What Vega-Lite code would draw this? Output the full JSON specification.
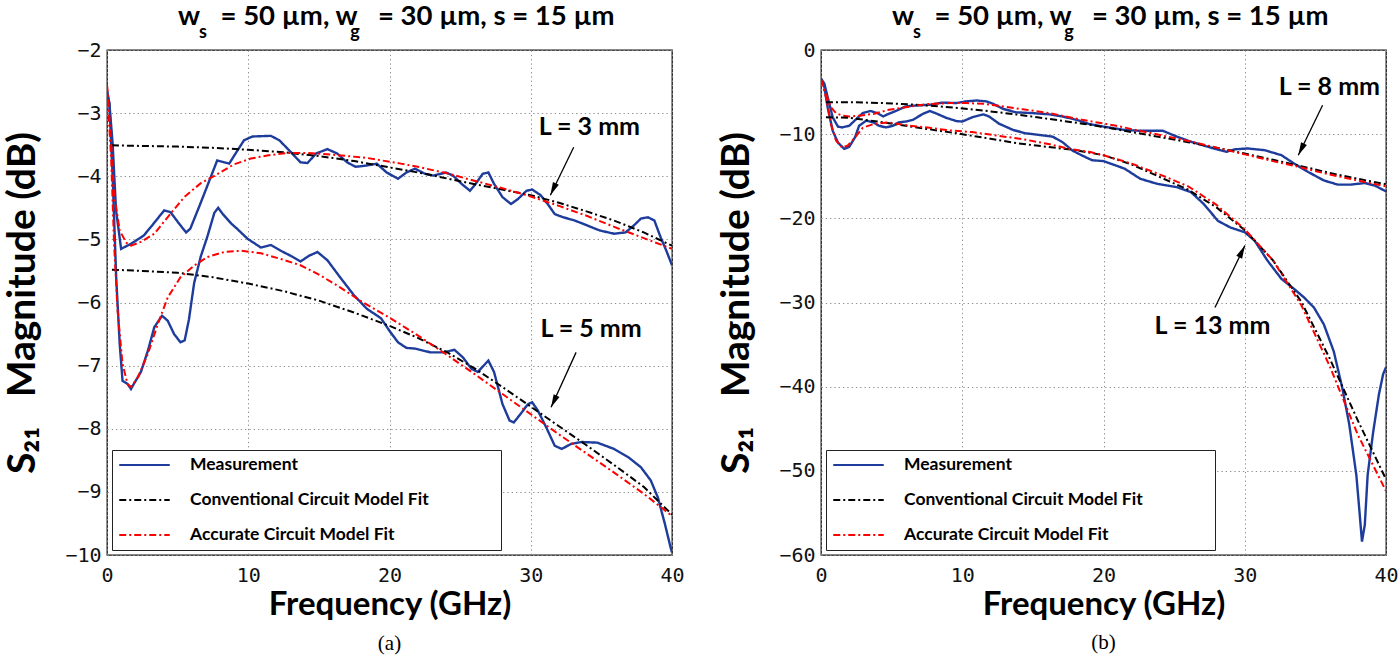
{
  "$schema": "https://vega.github.io/schema/vega-lite/v6.json",
  "background": "white",
  "padding": {"left": 3, "top": 1, "right": 10, "bottom": 5},
  "bounds": "flush",
  "spacing": 149,
  "datasets": {
    "a": [
      {"f":0,"v":-2.65,"s":"meas","L":"3"},{"f":0.17,"v":-2.85,"s":"meas","L":"3"},{"f":0.4,"v":-3.49,"s":"meas","L":"3"},{"f":0.64,"v":-4.54,"s":"meas","L":"3"},{"f":1.0,"v":-5.15,"s":"meas","L":"3"},{"f":1.7,"v":-5.07,"s":"meas","L":"3"},{"f":2.6,"v":-4.94,"s":"meas","L":"3"},{"f":3.3,"v":-4.75,"s":"meas","L":"3"},{"f":4.05,"v":-4.54,"s":"meas","L":"3"},{"f":4.5,"v":-4.57,"s":"meas","L":"3"},{"f":5.1,"v":-4.75,"s":"meas","L":"3"},{"f":5.6,"v":-4.89,"s":"meas","L":"3"},{"f":5.9,"v":-4.83,"s":"meas","L":"3"},{"f":6.6,"v":-4.44,"s":"meas","L":"3"},{"f":7.35,"v":-4.01,"s":"meas","L":"3"},{"f":7.8,"v":-3.75,"s":"meas","L":"3"},{"f":8.3,"v":-3.78,"s":"meas","L":"3"},{"f":8.65,"v":-3.8,"s":"meas","L":"3"},{"f":9.1,"v":-3.64,"s":"meas","L":"3"},{"f":9.7,"v":-3.43,"s":"meas","L":"3"},{"f":10.3,"v":-3.37,"s":"meas","L":"3"},{"f":11.6,"v":-3.36,"s":"meas","L":"3"},{"f":12.2,"v":-3.43,"s":"meas","L":"3"},{"f":12.9,"v":-3.59,"s":"meas","L":"3"},{"f":13.7,"v":-3.78,"s":"meas","L":"3"},{"f":14.2,"v":-3.79,"s":"meas","L":"3"},{"f":14.8,"v":-3.64,"s":"meas","L":"3"},{"f":15.6,"v":-3.57,"s":"meas","L":"3"},{"f":16.3,"v":-3.64,"s":"meas","L":"3"},{"f":17.0,"v":-3.78,"s":"meas","L":"3"},{"f":17.6,"v":-3.85,"s":"meas","L":"3"},{"f":18.4,"v":-3.83,"s":"meas","L":"3"},{"f":19.1,"v":-3.8,"s":"meas","L":"3"},{"f":19.8,"v":-3.94,"s":"meas","L":"3"},{"f":20.6,"v":-4.04,"s":"meas","L":"3"},{"f":21.2,"v":-3.94,"s":"meas","L":"3"},{"f":21.8,"v":-3.88,"s":"meas","L":"3"},{"f":22.5,"v":-3.96,"s":"meas","L":"3"},{"f":23.1,"v":-3.99,"s":"meas","L":"3"},{"f":24.0,"v":-3.94,"s":"meas","L":"3"},{"f":24.5,"v":-3.99,"s":"meas","L":"3"},{"f":25.1,"v":-4.12,"s":"meas","L":"3"},{"f":25.7,"v":-4.23,"s":"meas","L":"3"},{"f":26.1,"v":-4.12,"s":"meas","L":"3"},{"f":26.6,"v":-3.96,"s":"meas","L":"3"},{"f":27.0,"v":-3.94,"s":"meas","L":"3"},{"f":27.4,"v":-4.12,"s":"meas","L":"3"},{"f":28.0,"v":-4.33,"s":"meas","L":"3"},{"f":28.6,"v":-4.44,"s":"meas","L":"3"},{"f":29.1,"v":-4.36,"s":"meas","L":"3"},{"f":29.7,"v":-4.23,"s":"meas","L":"3"},{"f":30.1,"v":-4.21,"s":"meas","L":"3"},{"f":30.7,"v":-4.3,"s":"meas","L":"3"},{"f":31.2,"v":-4.44,"s":"meas","L":"3"},{"f":31.7,"v":-4.6,"s":"meas","L":"3"},{"f":32.3,"v":-4.65,"s":"meas","L":"3"},{"f":33.1,"v":-4.7,"s":"meas","L":"3"},{"f":34.0,"v":-4.78,"s":"meas","L":"3"},{"f":34.9,"v":-4.86,"s":"meas","L":"3"},{"f":35.9,"v":-4.91,"s":"meas","L":"3"},{"f":36.7,"v":-4.89,"s":"meas","L":"3"},{"f":37.3,"v":-4.78,"s":"meas","L":"3"},{"f":37.8,"v":-4.67,"s":"meas","L":"3"},{"f":38.3,"v":-4.65,"s":"meas","L":"3"},{"f":38.75,"v":-4.7,"s":"meas","L":"3"},{"f":39.2,"v":-4.97,"s":"meas","L":"3"},{"f":39.6,"v":-5.18,"s":"meas","L":"3"},{"f":40,"v":-5.41,"s":"meas","L":"3"},

      {"f":0.35,"v":-3.51,"s":"conv","L":"3"},{"f":2.5,"v":-3.52,"s":"conv","L":"3"},{"f":5,"v":-3.53,"s":"conv","L":"3"},{"f":7.5,"v":-3.55,"s":"conv","L":"3"},{"f":10,"v":-3.58,"s":"conv","L":"3"},{"f":12.5,"v":-3.62,"s":"conv","L":"3"},{"f":15,"v":-3.68,"s":"conv","L":"3"},{"f":17.5,"v":-3.76,"s":"conv","L":"3"},{"f":20,"v":-3.86,"s":"conv","L":"3"},{"f":22.5,"v":-3.96,"s":"conv","L":"3"},{"f":25,"v":-4.08,"s":"conv","L":"3"},{"f":27.5,"v":-4.19,"s":"conv","L":"3"},{"f":30,"v":-4.3,"s":"conv","L":"3"},{"f":32,"v":-4.42,"s":"conv","L":"3"},{"f":34,"v":-4.56,"s":"conv","L":"3"},{"f":36,"v":-4.71,"s":"conv","L":"3"},{"f":38,"v":-4.89,"s":"conv","L":"3"},{"f":40,"v":-5.1,"s":"conv","L":"3"},

      {"f":0,"v":-2.55,"s":"acc","L":"3"},{"f":0.3,"v":-3.49,"s":"acc","L":"3"},{"f":0.5,"v":-4.28,"s":"acc","L":"3"},{"f":0.9,"v":-4.86,"s":"acc","L":"3"},{"f":1.35,"v":-5.05,"s":"acc","L":"3"},{"f":1.7,"v":-5.1,"s":"acc","L":"3"},{"f":2.4,"v":-5.04,"s":"acc","L":"3"},{"f":3.35,"v":-4.91,"s":"acc","L":"3"},{"f":4.29,"v":-4.65,"s":"acc","L":"3"},{"f":5.47,"v":-4.33,"s":"acc","L":"3"},{"f":6.64,"v":-4.11,"s":"acc","L":"3"},{"f":7.47,"v":-4.01,"s":"acc","L":"3"},{"f":9.0,"v":-3.81,"s":"acc","L":"3"},{"f":10.18,"v":-3.72,"s":"acc","L":"3"},{"f":11.35,"v":-3.67,"s":"acc","L":"3"},{"f":12.77,"v":-3.63,"s":"acc","L":"3"},{"f":14.18,"v":-3.63,"s":"acc","L":"3"},{"f":16.07,"v":-3.66,"s":"acc","L":"3"},{"f":18.4,"v":-3.71,"s":"acc","L":"3"},{"f":20.8,"v":-3.8,"s":"acc","L":"3"},{"f":22,"v":-3.85,"s":"acc","L":"3"},{"f":24,"v":-3.95,"s":"acc","L":"3"},{"f":26,"v":-4.07,"s":"acc","L":"3"},{"f":28,"v":-4.19,"s":"acc","L":"3"},{"f":30,"v":-4.32,"s":"acc","L":"3"},{"f":32,"v":-4.47,"s":"acc","L":"3"},{"f":34,"v":-4.63,"s":"acc","L":"3"},{"f":36,"v":-4.81,"s":"acc","L":"3"},{"f":38,"v":-4.98,"s":"acc","L":"3"},{"f":40,"v":-5.15,"s":"acc","L":"3"},

      {"f":0,"v":-2.65,"s":"meas","L":"5"},{"f":0.17,"v":-2.85,"s":"meas","L":"5"},{"f":0.4,"v":-4.0,"s":"meas","L":"5"},{"f":0.65,"v":-5.6,"s":"meas","L":"5"},{"f":0.9,"v":-6.66,"s":"meas","L":"5"},{"f":1.1,"v":-7.24,"s":"meas","L":"5"},{"f":1.45,"v":-7.29,"s":"meas","L":"5"},{"f":1.7,"v":-7.37,"s":"meas","L":"5"},{"f":1.9,"v":-7.29,"s":"meas","L":"5"},{"f":2.4,"v":-7.1,"s":"meas","L":"5"},{"f":2.9,"v":-6.76,"s":"meas","L":"5"},{"f":3.35,"v":-6.39,"s":"meas","L":"5"},{"f":3.9,"v":-6.21,"s":"meas","L":"5"},{"f":4.3,"v":-6.29,"s":"meas","L":"5"},{"f":4.75,"v":-6.5,"s":"meas","L":"5"},{"f":5.2,"v":-6.63,"s":"meas","L":"5"},{"f":5.5,"v":-6.6,"s":"meas","L":"5"},{"f":5.8,"v":-6.27,"s":"meas","L":"5"},{"f":6.17,"v":-5.69,"s":"meas","L":"5"},{"f":6.64,"v":-5.27,"s":"meas","L":"5"},{"f":7.1,"v":-4.96,"s":"meas","L":"5"},{"f":7.6,"v":-4.58,"s":"meas","L":"5"},{"f":7.87,"v":-4.5,"s":"meas","L":"5"},{"f":8.2,"v":-4.6,"s":"meas","L":"5"},{"f":8.8,"v":-4.75,"s":"meas","L":"5"},{"f":9.2,"v":-4.83,"s":"meas","L":"5"},{"f":9.95,"v":-4.99,"s":"meas","L":"5"},{"f":10.9,"v":-5.13,"s":"meas","L":"5"},{"f":11.6,"v":-5.09,"s":"meas","L":"5"},{"f":12.3,"v":-5.18,"s":"meas","L":"5"},{"f":13.0,"v":-5.26,"s":"meas","L":"5"},{"f":13.7,"v":-5.35,"s":"meas","L":"5"},{"f":14.3,"v":-5.26,"s":"meas","L":"5"},{"f":14.9,"v":-5.2,"s":"meas","L":"5"},{"f":15.6,"v":-5.33,"s":"meas","L":"5"},{"f":16.5,"v":-5.6,"s":"meas","L":"5"},{"f":17.5,"v":-5.89,"s":"meas","L":"5"},{"f":18.4,"v":-6.1,"s":"meas","L":"5"},{"f":19.4,"v":-6.25,"s":"meas","L":"5"},{"f":20.0,"v":-6.45,"s":"meas","L":"5"},{"f":20.6,"v":-6.63,"s":"meas","L":"5"},{"f":21.2,"v":-6.72,"s":"meas","L":"5"},{"f":21.8,"v":-6.73,"s":"meas","L":"5"},{"f":22.9,"v":-6.79,"s":"meas","L":"5"},{"f":23.8,"v":-6.79,"s":"meas","L":"5"},{"f":24.6,"v":-6.75,"s":"meas","L":"5"},{"f":25.2,"v":-6.87,"s":"meas","L":"5"},{"f":25.8,"v":-7.05,"s":"meas","L":"5"},{"f":26.25,"v":-7.1,"s":"meas","L":"5"},{"f":27.0,"v":-6.92,"s":"meas","L":"5"},{"f":27.4,"v":-7.1,"s":"meas","L":"5"},{"f":28.0,"v":-7.61,"s":"meas","L":"5"},{"f":28.5,"v":-7.87,"s":"meas","L":"5"},{"f":28.8,"v":-7.9,"s":"meas","L":"5"},{"f":29.3,"v":-7.76,"s":"meas","L":"5"},{"f":29.8,"v":-7.61,"s":"meas","L":"5"},{"f":30.1,"v":-7.58,"s":"meas","L":"5"},{"f":30.5,"v":-7.71,"s":"meas","L":"5"},{"f":31.1,"v":-7.98,"s":"meas","L":"5"},{"f":31.7,"v":-8.27,"s":"meas","L":"5"},{"f":32.2,"v":-8.32,"s":"meas","L":"5"},{"f":32.85,"v":-8.24,"s":"meas","L":"5"},{"f":33.6,"v":-8.21,"s":"meas","L":"5"},{"f":34.7,"v":-8.22,"s":"meas","L":"5"},{"f":35.9,"v":-8.32,"s":"meas","L":"5"},{"f":36.9,"v":-8.45,"s":"meas","L":"5"},{"f":37.8,"v":-8.61,"s":"meas","L":"5"},{"f":38.5,"v":-8.82,"s":"meas","L":"5"},{"f":39.0,"v":-9.09,"s":"meas","L":"5"},{"f":39.5,"v":-9.51,"s":"meas","L":"5"},{"f":39.9,"v":-9.88,"s":"meas","L":"5"},{"f":40,"v":-9.96,"s":"meas","L":"5"},

      {"f":0.35,"v":-5.48,"s":"conv","L":"5"},{"f":2.5,"v":-5.5,"s":"conv","L":"5"},{"f":5,"v":-5.53,"s":"conv","L":"5"},{"f":7.5,"v":-5.6,"s":"conv","L":"5"},{"f":10,"v":-5.7,"s":"conv","L":"5"},{"f":12.5,"v":-5.82,"s":"conv","L":"5"},{"f":15,"v":-5.97,"s":"conv","L":"5"},{"f":17.5,"v":-6.16,"s":"conv","L":"5"},{"f":20,"v":-6.37,"s":"conv","L":"5"},{"f":22,"v":-6.56,"s":"conv","L":"5"},{"f":24,"v":-6.78,"s":"conv","L":"5"},{"f":26,"v":-7.04,"s":"conv","L":"5"},{"f":28,"v":-7.34,"s":"conv","L":"5"},{"f":30,"v":-7.65,"s":"conv","L":"5"},{"f":32,"v":-7.96,"s":"conv","L":"5"},{"f":34,"v":-8.27,"s":"conv","L":"5"},{"f":36,"v":-8.59,"s":"conv","L":"5"},{"f":38,"v":-8.92,"s":"conv","L":"5"},{"f":40,"v":-9.36,"s":"conv","L":"5"},

      {"f":0,"v":-2.55,"s":"acc","L":"5"},{"f":0.3,"v":-3.75,"s":"acc","L":"5"},{"f":0.5,"v":-5.07,"s":"acc","L":"5"},{"f":0.75,"v":-6.13,"s":"acc","L":"5"},{"f":1.1,"v":-6.97,"s":"acc","L":"5"},{"f":1.45,"v":-7.29,"s":"acc","L":"5"},{"f":1.7,"v":-7.34,"s":"acc","L":"5"},{"f":2.2,"v":-7.18,"s":"acc","L":"5"},{"f":2.9,"v":-6.81,"s":"acc","L":"5"},{"f":3.6,"v":-6.34,"s":"acc","L":"5"},{"f":4.3,"v":-5.92,"s":"acc","L":"5"},{"f":5.2,"v":-5.6,"s":"acc","L":"5"},{"f":6.2,"v":-5.41,"s":"acc","L":"5"},{"f":7.1,"v":-5.28,"s":"acc","L":"5"},{"f":8.3,"v":-5.2,"s":"acc","L":"5"},{"f":9.5,"v":-5.18,"s":"acc","L":"5"},{"f":10.9,"v":-5.22,"s":"acc","L":"5"},{"f":12.3,"v":-5.31,"s":"acc","L":"5"},{"f":13.7,"v":-5.41,"s":"acc","L":"5"},{"f":15.1,"v":-5.57,"s":"acc","L":"5"},{"f":16.5,"v":-5.76,"s":"acc","L":"5"},{"f":18,"v":-5.98,"s":"acc","L":"5"},{"f":20,"v":-6.24,"s":"acc","L":"5"},{"f":22,"v":-6.52,"s":"acc","L":"5"},{"f":24,"v":-6.82,"s":"acc","L":"5"},{"f":26,"v":-7.13,"s":"acc","L":"5"},{"f":28,"v":-7.45,"s":"acc","L":"5"},{"f":30,"v":-7.77,"s":"acc","L":"5"},{"f":32,"v":-8.09,"s":"acc","L":"5"},{"f":34,"v":-8.4,"s":"acc","L":"5"},{"f":36,"v":-8.71,"s":"acc","L":"5"},{"f":38,"v":-9.03,"s":"acc","L":"5"},{"f":40,"v":-9.38,"s":"acc","L":"5"}
    ],
    "b": [
      {"f":0,"v":-3.4,"s":"meas","L":"8"},{"f":0.24,"v":-4.0,"s":"meas","L":"8"},{"f":0.47,"v":-5.6,"s":"meas","L":"8"},{"f":0.83,"v":-8.0,"s":"meas","L":"8"},{"f":1.2,"v":-9.1,"s":"meas","L":"8"},{"f":1.5,"v":-9.2,"s":"meas","L":"8"},{"f":2.0,"v":-9.0,"s":"meas","L":"8"},{"f":2.5,"v":-8.2,"s":"meas","L":"8"},{"f":2.95,"v":-7.5,"s":"meas","L":"8"},{"f":3.5,"v":-7.25,"s":"meas","L":"8"},{"f":4.0,"v":-7.5,"s":"meas","L":"8"},{"f":4.4,"v":-7.9,"s":"meas","L":"8"},{"f":4.7,"v":-7.65,"s":"meas","L":"8"},{"f":5.3,"v":-7.25,"s":"meas","L":"8"},{"f":6.0,"v":-6.7,"s":"meas","L":"8"},{"f":6.7,"v":-6.6,"s":"meas","L":"8"},{"f":7.7,"v":-6.5,"s":"meas","L":"8"},{"f":8.6,"v":-6.25,"s":"meas","L":"8"},{"f":9.6,"v":-6.3,"s":"meas","L":"8"},{"f":10.3,"v":-6.1,"s":"meas","L":"8"},{"f":11.0,"v":-6.0,"s":"meas","L":"8"},{"f":11.7,"v":-6.1,"s":"meas","L":"8"},{"f":12.2,"v":-6.4,"s":"meas","L":"8"},{"f":12.9,"v":-7.0,"s":"meas","L":"8"},{"f":13.8,"v":-7.4,"s":"meas","L":"8"},{"f":15.0,"v":-7.5,"s":"meas","L":"8"},{"f":16.2,"v":-7.65,"s":"meas","L":"8"},{"f":17.1,"v":-7.9,"s":"meas","L":"8"},{"f":18.1,"v":-8.3,"s":"meas","L":"8"},{"f":19.0,"v":-8.8,"s":"meas","L":"8"},{"f":20.0,"v":-9.1,"s":"meas","L":"8"},{"f":21.5,"v":-9.5,"s":"meas","L":"8"},{"f":22.6,"v":-9.6,"s":"meas","L":"8"},{"f":24.2,"v":-9.6,"s":"meas","L":"8"},{"f":25.2,"v":-10.3,"s":"meas","L":"8"},{"f":26.2,"v":-10.9,"s":"meas","L":"8"},{"f":27.6,"v":-11.6,"s":"meas","L":"8"},{"f":28.7,"v":-12.1,"s":"meas","L":"8"},{"f":29.3,"v":-11.8,"s":"meas","L":"8"},{"f":30.2,"v":-11.7,"s":"meas","L":"8"},{"f":31.4,"v":-11.9,"s":"meas","L":"8"},{"f":32.6,"v":-12.5,"s":"meas","L":"8"},{"f":33.5,"v":-13.5,"s":"meas","L":"8"},{"f":34.5,"v":-14.5,"s":"meas","L":"8"},{"f":35.6,"v":-15.5,"s":"meas","L":"8"},{"f":36.6,"v":-16.0,"s":"meas","L":"8"},{"f":37.5,"v":-16.0,"s":"meas","L":"8"},{"f":38.5,"v":-15.8,"s":"meas","L":"8"},{"f":39.2,"v":-16.1,"s":"meas","L":"8"},{"f":40,"v":-16.8,"s":"meas","L":"8"},

      {"f":0.35,"v":-6.2,"s":"conv","L":"8"},{"f":2,"v":-6.2,"s":"conv","L":"8"},{"f":4.4,"v":-6.3,"s":"conv","L":"8"},{"f":6.7,"v":-6.5,"s":"conv","L":"8"},{"f":9.1,"v":-6.8,"s":"conv","L":"8"},{"f":11.5,"v":-7.2,"s":"conv","L":"8"},{"f":13.8,"v":-7.65,"s":"conv","L":"8"},{"f":16.2,"v":-8.2,"s":"conv","L":"8"},{"f":18.5,"v":-8.75,"s":"conv","L":"8"},{"f":20,"v":-9.15,"s":"conv","L":"8"},{"f":22,"v":-9.75,"s":"conv","L":"8"},{"f":24,"v":-10.35,"s":"conv","L":"8"},{"f":26,"v":-10.95,"s":"conv","L":"8"},{"f":28,"v":-11.6,"s":"conv","L":"8"},{"f":30,"v":-12.3,"s":"conv","L":"8"},{"f":32,"v":-13.05,"s":"conv","L":"8"},{"f":34,"v":-13.8,"s":"conv","L":"8"},{"f":36,"v":-14.6,"s":"conv","L":"8"},{"f":38,"v":-15.3,"s":"conv","L":"8"},{"f":40,"v":-15.95,"s":"conv","L":"8"},

      {"f":0,"v":-3.5,"s":"acc","L":"8"},{"f":0.35,"v":-5.2,"s":"acc","L":"8"},{"f":0.7,"v":-6.8,"s":"acc","L":"8"},{"f":1.06,"v":-7.5,"s":"acc","L":"8"},{"f":1.5,"v":-7.8,"s":"acc","L":"8"},{"f":2.0,"v":-7.9,"s":"acc","L":"8"},{"f":2.7,"v":-7.8,"s":"acc","L":"8"},{"f":3.7,"v":-7.6,"s":"acc","L":"8"},{"f":4.8,"v":-7.1,"s":"acc","L":"8"},{"f":6.0,"v":-6.8,"s":"acc","L":"8"},{"f":7.4,"v":-6.45,"s":"acc","L":"8"},{"f":9.1,"v":-6.3,"s":"acc","L":"8"},{"f":10.3,"v":-6.3,"s":"acc","L":"8"},{"f":11.5,"v":-6.4,"s":"acc","L":"8"},{"f":12.9,"v":-6.7,"s":"acc","L":"8"},{"f":14.3,"v":-7.05,"s":"acc","L":"8"},{"f":16.2,"v":-7.5,"s":"acc","L":"8"},{"f":18.5,"v":-8.3,"s":"acc","L":"8"},{"f":20.9,"v":-9.0,"s":"acc","L":"8"},{"f":22,"v":-9.4,"s":"acc","L":"8"},{"f":24,"v":-10.1,"s":"acc","L":"8"},{"f":26,"v":-10.8,"s":"acc","L":"8"},{"f":28,"v":-11.6,"s":"acc","L":"8"},{"f":30,"v":-12.4,"s":"acc","L":"8"},{"f":32,"v":-13.2,"s":"acc","L":"8"},{"f":34,"v":-13.95,"s":"acc","L":"8"},{"f":36,"v":-14.8,"s":"acc","L":"8"},{"f":38,"v":-15.5,"s":"acc","L":"8"},{"f":40,"v":-16.2,"s":"acc","L":"8"},

      {"f":0,"v":-3.4,"s":"meas","L":"13"},{"f":0.24,"v":-4.4,"s":"meas","L":"13"},{"f":0.47,"v":-6.8,"s":"meas","L":"13"},{"f":0.83,"v":-9.6,"s":"meas","L":"13"},{"f":1.2,"v":-11.0,"s":"meas","L":"13"},{"f":1.65,"v":-11.75,"s":"meas","L":"13"},{"f":2.0,"v":-11.5,"s":"meas","L":"13"},{"f":2.4,"v":-10.4,"s":"meas","L":"13"},{"f":2.7,"v":-9.0,"s":"meas","L":"13"},{"f":3.2,"v":-8.4,"s":"meas","L":"13"},{"f":3.7,"v":-8.6,"s":"meas","L":"13"},{"f":4.1,"v":-9.0,"s":"meas","L":"13"},{"f":4.6,"v":-9.2,"s":"meas","L":"13"},{"f":5.1,"v":-9.0,"s":"meas","L":"13"},{"f":5.5,"v":-8.6,"s":"meas","L":"13"},{"f":6.0,"v":-8.5,"s":"meas","L":"13"},{"f":6.5,"v":-8.3,"s":"meas","L":"13"},{"f":7.2,"v":-7.6,"s":"meas","L":"13"},{"f":7.7,"v":-7.25,"s":"meas","L":"13"},{"f":8.1,"v":-7.5,"s":"meas","L":"13"},{"f":8.85,"v":-8.05,"s":"meas","L":"13"},{"f":9.6,"v":-8.45,"s":"meas","L":"13"},{"f":10.0,"v":-8.5,"s":"meas","L":"13"},{"f":10.7,"v":-8.0,"s":"meas","L":"13"},{"f":11.5,"v":-7.65,"s":"meas","L":"13"},{"f":11.9,"v":-7.9,"s":"meas","L":"13"},{"f":12.6,"v":-8.75,"s":"meas","L":"13"},{"f":13.6,"v":-9.5,"s":"meas","L":"13"},{"f":14.5,"v":-9.9,"s":"meas","L":"13"},{"f":15.5,"v":-10.1,"s":"meas","L":"13"},{"f":16.4,"v":-10.3,"s":"meas","L":"13"},{"f":17.1,"v":-10.95,"s":"meas","L":"13"},{"f":17.8,"v":-11.95,"s":"meas","L":"13"},{"f":18.5,"v":-12.55,"s":"meas","L":"13"},{"f":19.2,"v":-13.1,"s":"meas","L":"13"},{"f":20.0,"v":-13.2,"s":"meas","L":"13"},{"f":21.5,"v":-14.1,"s":"meas","L":"13"},{"f":22.6,"v":-15.3,"s":"meas","L":"13"},{"f":23.8,"v":-15.9,"s":"meas","L":"13"},{"f":25.2,"v":-16.3,"s":"meas","L":"13"},{"f":26.2,"v":-16.9,"s":"meas","L":"13"},{"f":27.1,"v":-18.3,"s":"meas","L":"13"},{"f":28.1,"v":-20.3,"s":"meas","L":"13"},{"f":29.0,"v":-21.1,"s":"meas","L":"13"},{"f":30,"v":-21.65,"s":"meas","L":"13"},{"f":30.7,"v":-22.65,"s":"meas","L":"13"},{"f":31.6,"v":-25.0,"s":"meas","L":"13"},{"f":32.6,"v":-27.2,"s":"meas","L":"13"},{"f":33.5,"v":-28.4,"s":"meas","L":"13"},{"f":34.2,"v":-29.4,"s":"meas","L":"13"},{"f":34.9,"v":-30.6,"s":"meas","L":"13"},{"f":35.6,"v":-32.6,"s":"meas","L":"13"},{"f":36.3,"v":-35.8,"s":"meas","L":"13"},{"f":36.9,"v":-40.1,"s":"meas","L":"13"},{"f":37.4,"v":-44.5,"s":"meas","L":"13"},{"f":37.9,"v":-50.5,"s":"meas","L":"13"},{"f":38.1,"v":-54.4,"s":"meas","L":"13"},{"f":38.3,"v":-58.4,"s":"meas","L":"13"},{"f":38.5,"v":-56.4,"s":"meas","L":"13"},{"f":38.7,"v":-50.5,"s":"meas","L":"13"},{"f":39.1,"v":-45.3,"s":"meas","L":"13"},{"f":39.5,"v":-40.9,"s":"meas","L":"13"},{"f":39.8,"v":-38.5,"s":"meas","L":"13"},{"f":40,"v":-37.7,"s":"meas","L":"13"},

      {"f":0.35,"v":-8.0,"s":"conv","L":"13"},{"f":2,"v":-8.05,"s":"conv","L":"13"},{"f":4,"v":-8.5,"s":"conv","L":"13"},{"f":6,"v":-9.0,"s":"conv","L":"13"},{"f":8,"v":-9.5,"s":"conv","L":"13"},{"f":10,"v":-10.0,"s":"conv","L":"13"},{"f":12,"v":-10.55,"s":"conv","L":"13"},{"f":14,"v":-11.1,"s":"conv","L":"13"},{"f":16,"v":-11.5,"s":"conv","L":"13"},{"f":18,"v":-11.9,"s":"conv","L":"13"},{"f":20,"v":-12.5,"s":"conv","L":"13"},{"f":22,"v":-13.6,"s":"conv","L":"13"},{"f":24,"v":-15.1,"s":"conv","L":"13"},{"f":26,"v":-16.6,"s":"conv","L":"13"},{"f":28,"v":-18.7,"s":"conv","L":"13"},{"f":30,"v":-21.4,"s":"conv","L":"13"},{"f":32,"v":-25.0,"s":"conv","L":"13"},{"f":34,"v":-29.9,"s":"conv","L":"13"},{"f":36,"v":-36.6,"s":"conv","L":"13"},{"f":38,"v":-44.0,"s":"conv","L":"13"},{"f":40,"v":-51.0,"s":"conv","L":"13"},

      {"f":0,"v":-3.5,"s":"acc","L":"13"},{"f":0.35,"v":-5.6,"s":"acc","L":"13"},{"f":0.7,"v":-8.8,"s":"acc","L":"13"},{"f":1.06,"v":-10.75,"s":"acc","L":"13"},{"f":1.5,"v":-11.6,"s":"acc","L":"13"},{"f":1.9,"v":-11.35,"s":"acc","L":"13"},{"f":2.4,"v":-10.4,"s":"acc","L":"13"},{"f":2.95,"v":-9.25,"s":"acc","L":"13"},{"f":3.7,"v":-8.8,"s":"acc","L":"13"},{"f":4.8,"v":-8.6,"s":"acc","L":"13"},{"f":6.3,"v":-9.0,"s":"acc","L":"13"},{"f":7.7,"v":-9.25,"s":"acc","L":"13"},{"f":9.1,"v":-9.55,"s":"acc","L":"13"},{"f":10.7,"v":-9.75,"s":"acc","L":"13"},{"f":12.4,"v":-10.15,"s":"acc","L":"13"},{"f":14.3,"v":-10.6,"s":"acc","L":"13"},{"f":16.2,"v":-11.2,"s":"acc","L":"13"},{"f":17.6,"v":-11.75,"s":"acc","L":"13"},{"f":19,"v":-12.1,"s":"acc","L":"13"},{"f":20,"v":-12.5,"s":"acc","L":"13"},{"f":22,"v":-13.5,"s":"acc","L":"13"},{"f":24,"v":-14.8,"s":"acc","L":"13"},{"f":26,"v":-16.2,"s":"acc","L":"13"},{"f":28,"v":-18.4,"s":"acc","L":"13"},{"f":30,"v":-21.3,"s":"acc","L":"13"},{"f":32,"v":-25.0,"s":"acc","L":"13"},{"f":34,"v":-30.3,"s":"acc","L":"13"},{"f":36,"v":-37.5,"s":"acc","L":"13"},{"f":38,"v":-45.7,"s":"acc","L":"13"},{"f":40,"v":-52.4,"s":"acc","L":"13"}
    ],
    "arrowsA": [
      {"k":"3","f":33.04,"v":-3.54,"f2":31.39,"v2":-4.3},
      {"k":"5","f":33.21,"v":-6.79,"f2":31.44,"v2":-7.66}
    ],
    "arrowsB": [
      {"k":"8","f":35.51,"v":-6.56,"f2":33.79,"v2":-12.51},
      {"k":"13","f":27.89,"v":-30.59,"f2":30.01,"v2":-23.24}
    ],
    "notesA": [
      {"f":34.15,"v":-3.22,"t":"L = 3 mm"},
      {"f":34.27,"v":-6.42,"t":"L = 5 mm"}
    ],
    "notesB": [
      {"f":35.99,"v":-4.37,"t":"L = 8 mm"},
      {"f":27.72,"v":-32.78,"t":"L = 13 mm"}
    ],
    "capA": [{"f":20,"v":-11.41,"t":"(a)"}],
    "capB": [{"f":20,"v":-70.4,"t":"(b)"}]
  },
  "resolve": {"legend": {"color": "independent", "strokeDash": "independent"}},
  "hconcat": [
    {
      "width": 565,
      "height": 505,
      "title": {
        "text": "w\u2002 = 50 µm, w\u2002 = 30 µm, s = 15 µm",
        "subtitle": "\u200b\u2004\u2005\u2004\u2005s\u2003\u2003\u2003\u2003\u2003\u2003\u2003\u2003\u2003\u2003\u2004\u2009g"
      },
      "layer": [
        {
          "data": {"name": "a"},
          "transform": [{"filter": "datum.s == 'meas'"}],
          "mark": {"type": "line", "strokeWidth": 2.4, "clip": true},
          "encoding": {
            "x": {"field": "f", "type": "quantitative", "title": "Frequency (GHz)", "scale": {"domain": [0, 40], "nice": false}, "axis": {"values": [0, 10, 20, 30, 40]}},
            "y": {"field": "v", "type": "quantitative", "title": "S\u2082\u2081\u2003Magnitude (dB)", "scale": {"domain": [-10, -2], "nice": false, "zero": false}, "axis": {"values": [-10, -9, -8, -7, -6, -5, -4, -3, -2], "format": "d"}},
            "detail": {"field": "L"},
            "color": {"field": "s", "type": "nominal", "scale": {"domain": ["meas", "conv", "acc"], "range": ["#1d3c9c", "#000000", "#ff0000"]}, "legend": {"title": null, "labelExpr": "(datum.label == 'meas' ? 'Measurement' : datum.label == 'conv' ? 'Conventional Circuit Model Fit' : 'Accurate Circuit Model Fit') + '\u2003\u2003\u2003\u2003\u2003\u200b'"}},
            "strokeDash": {"field": "s", "type": "nominal", "scale": {"domain": ["meas", "conv", "acc"], "range": [[1, 0], [7, 3, 2, 3], [7, 3, 2, 3]]}, "legend": {"title": null, "labelExpr": "(datum.label == 'meas' ? 'Measurement' : datum.label == 'conv' ? 'Conventional Circuit Model Fit' : 'Accurate Circuit Model Fit') + '\u2003\u2003\u2003\u2003\u2003\u200b'"}}
          }
        },
        {
          "data": {"name": "a"},
          "transform": [{"filter": "datum.s != 'meas'"}],
          "mark": {"type": "line", "strokeWidth": 2, "clip": true},
          "encoding": {
            "x": {"field": "f", "type": "quantitative", "title": "Frequency (GHz)"},
            "y": {"field": "v", "type": "quantitative", "title": "S\u2082\u2081\u2003Magnitude (dB)"},
            "detail": {"field": "L"},
            "color": {"field": "s", "type": "nominal"},
            "strokeDash": {"field": "s", "type": "nominal"}
          }
        },
        {
          "data": {"name": "arrowsA"},
          "mark": {"type": "rule", "color": "black", "strokeWidth": 1.3},
          "encoding": {
            "x": {"field": "f", "type": "quantitative", "title": "Frequency (GHz)"},
            "y": {"field": "v", "type": "quantitative", "title": "S\u2082\u2081\u2003Magnitude (dB)"},
            "x2": {"field": "f2"},
            "y2": {"field": "v2"}
          }
        },
        {
          "data": {"name": "arrowsA"},
          "mark": {"type": "point", "shape": "M0,0L0.5,2L-0.5,2Z", "size": 169, "angle": 205, "filled": true, "color": "black", "opacity": 1, "strokeWidth": 0},
          "encoding": {
            "x": {"field": "f2", "type": "quantitative", "title": "Frequency (GHz)"},
            "y": {"field": "v2", "type": "quantitative", "title": "S\u2082\u2081\u2003Magnitude (dB)"}
          }
        },
        {
          "data": {"name": "notesA"},
          "mark": {"type": "text", "font": "Lato", "fontSize": 25, "fontWeight": "bold", "color": "black"},
          "encoding": {
            "x": {"field": "f", "type": "quantitative", "title": "Frequency (GHz)"},
            "y": {"field": "v", "type": "quantitative", "title": "S\u2082\u2081\u2003Magnitude (dB)"},
            "text": {"field": "t"}
          }
        },
        {
          "data": {"name": "capA"},
          "mark": {"type": "text", "font": "Liberation Serif", "fontSize": 21, "color": "black"},
          "encoding": {
            "x": {"field": "f", "type": "quantitative", "title": "Frequency (GHz)"},
            "y": {"field": "v", "type": "quantitative", "title": "S\u2082\u2081\u2003Magnitude (dB)"},
            "text": {"field": "t"}
          }
        }
      ]
    },
    {
      "width": 565,
      "height": 505,
      "title": {
        "text": "w\u2002 = 50 µm, w\u2002 = 30 µm, s = 15 µm",
        "subtitle": "\u200b\u2004\u2005\u2004\u2005s\u2003\u2003\u2003\u2003\u2003\u2003\u2003\u2003\u2003\u2003\u2004\u2009g"
      },
      "layer": [
        {
          "data": {"name": "b"},
          "transform": [{"filter": "datum.s == 'meas'"}],
          "mark": {"type": "line", "strokeWidth": 2.4, "clip": true},
          "encoding": {
            "x": {"field": "f", "type": "quantitative", "title": "Frequency (GHz)", "scale": {"domain": [0, 40], "nice": false}, "axis": {"values": [0, 10, 20, 30, 40]}},
            "y": {"field": "v", "type": "quantitative", "title": "S\u2082\u2081\u2003Magnitude (dB)", "scale": {"domain": [-60, 0], "nice": false}, "axis": {"values": [-60, -50, -40, -30, -20, -10, 0], "format": "d"}},
            "detail": {"field": "L"},
            "color": {"field": "s", "type": "nominal", "legend": {"title": null, "labelExpr": "(datum.label == 'meas' ? 'Measurement' : datum.label == 'conv' ? 'Conventional Circuit Model Fit' : 'Accurate Circuit Model Fit') + '\u2003\u2003\u2003\u2003\u2003\u200b'"}},
            "strokeDash": {"field": "s", "type": "nominal", "legend": {"title": null, "labelExpr": "(datum.label == 'meas' ? 'Measurement' : datum.label == 'conv' ? 'Conventional Circuit Model Fit' : 'Accurate Circuit Model Fit') + '\u2003\u2003\u2003\u2003\u2003\u200b'"}}
          }
        },
        {
          "data": {"name": "b"},
          "transform": [{"filter": "datum.s != 'meas'"}],
          "mark": {"type": "line", "strokeWidth": 2, "clip": true},
          "encoding": {
            "x": {"field": "f", "type": "quantitative", "title": "Frequency (GHz)"},
            "y": {"field": "v", "type": "quantitative", "title": "S\u2082\u2081\u2003Magnitude (dB)"},
            "detail": {"field": "L"},
            "color": {"field": "s", "type": "nominal"},
            "strokeDash": {"field": "s", "type": "nominal"}
          }
        },
        {
          "data": {"name": "arrowsB"},
          "mark": {"type": "rule", "color": "black", "strokeWidth": 1.3},
          "encoding": {
            "x": {"field": "f", "type": "quantitative", "title": "Frequency (GHz)"},
            "y": {"field": "v", "type": "quantitative", "title": "S\u2082\u2081\u2003Magnitude (dB)"},
            "x2": {"field": "f2"},
            "y2": {"field": "v2"}
          }
        },
        {
          "data": {"name": "arrowsB"},
          "transform": [{"filter": "datum.k == '8'"}],
          "mark": {"type": "point", "shape": "M0,0L0.5,2L-0.5,2Z", "size": 169, "angle": 206, "filled": true, "color": "black", "opacity": 1, "strokeWidth": 0},
          "encoding": {
            "x": {"field": "f2", "type": "quantitative", "title": "Frequency (GHz)"},
            "y": {"field": "v2", "type": "quantitative", "title": "S\u2082\u2081\u2003Magnitude (dB)"}
          }
        },
        {
          "data": {"name": "arrowsB"},
          "transform": [{"filter": "datum.k == '13'"}],
          "mark": {"type": "point", "shape": "M0,0L0.5,2L-0.5,2Z", "size": 169, "angle": 26, "filled": true, "color": "black", "opacity": 1, "strokeWidth": 0},
          "encoding": {
            "x": {"field": "f2", "type": "quantitative", "title": "Frequency (GHz)"},
            "y": {"field": "v2", "type": "quantitative", "title": "S\u2082\u2081\u2003Magnitude (dB)"}
          }
        },
        {
          "data": {"name": "notesB"},
          "mark": {"type": "text", "font": "Lato", "fontSize": 25, "fontWeight": "bold", "color": "black"},
          "encoding": {
            "x": {"field": "f", "type": "quantitative", "title": "Frequency (GHz)"},
            "y": {"field": "v", "type": "quantitative", "title": "S\u2082\u2081\u2003Magnitude (dB)"},
            "text": {"field": "t"}
          }
        },
        {
          "data": {"name": "capB"},
          "mark": {"type": "text", "font": "Liberation Serif", "fontSize": 21, "color": "black"},
          "encoding": {
            "x": {"field": "f", "type": "quantitative", "title": "Frequency (GHz)"},
            "y": {"field": "v", "type": "quantitative", "title": "S\u2082\u2081\u2003Magnitude (dB)"},
            "text": {"field": "t"}
          }
        }
      ]
    }
  ],
  "config": {
    "font": "Lato",
    "view": {"stroke": "#111111", "strokeWidth": 1.3},
    "title": {
      "anchor": "start",
      "frame": "group",
      "dx": 71,
      "offset": -2,
      "font": "Lato",
      "fontSize": 27.5,
      "fontWeight": "bold",
      "color": "black",
      "subtitleFont": "Lato",
      "subtitleFontSize": 18,
      "subtitleFontWeight": "bold",
      "subtitleColor": "black",
      "subtitlePadding": -6
    },
    "axis": {
      "domain": false,
      "ticks": false,
      "grid": true,
      "gridColor": "#8f8f8f",
      "gridDash": [1.3, 3],
      "gridWidth": 1,
      "labelFont": "DejaVu Sans Mono",
      "labelFontSize": 20,
      "labelColor": "#111111",
      "labelFlush": false,
      "labelOverlap": false,
      "titleFont": "Lato",
      "titleFontWeight": "bold",
      "titleColor": "black"
    },
    "axisX": {"labelPadding": 10, "titleFontSize": 33, "titlePadding": 3},
    "axisY": {"labelPadding": 6, "titleFontSize": 39, "titlePadding": 22},
    "legend": {
      "orient": "bottom-left",
      "offset": 5,
      "padding": 6,
      "fillColor": "white",
      "strokeColor": "#222222",
      "cornerRadius": 0,
      "symbolType": "stroke",
      "symbolSize": 2550,
      "symbolStrokeWidth": 2.2,
      "labelOffset": 19,
      "labelFont": "Lato",
      "labelFontSize": 17.5,
      "labelFontWeight": "bold",
      "labelColor": "black",
      "labelLimit": 500,
      "clipHeight": 18,
      "rowPadding": 17
    }
  }
}
